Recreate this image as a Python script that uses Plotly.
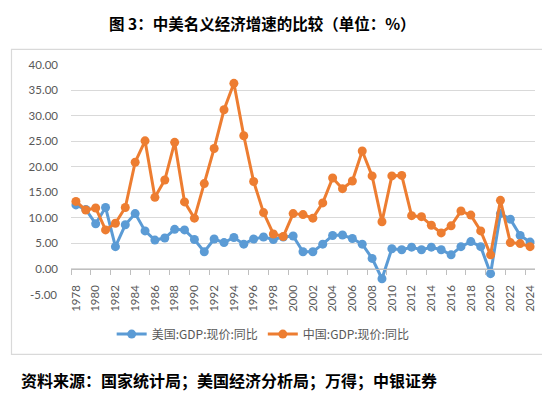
import plotly.graph_objects as go

years = list(range(1978, 2025))
us_gdp = [12.5, 11.6, 8.8, 12.0, 4.3, 8.6, 10.8, 7.4, 5.6, 6.0, 7.7, 7.6, 5.7, 3.3, 5.8, 5.1, 6.1, 4.8, 5.8, 6.2, 5.7, 6.2, 6.4, 3.3, 3.3, 4.8, 6.5, 6.6, 5.9, 4.8, 2.0, -2.0, 3.9, 3.7, 4.2, 3.7, 4.2, 3.7, 2.7, 4.3, 5.3, 4.3, -1.0, 10.8, 9.7, 6.5, 5.2]
cn_gdp = [13.2, 11.5, 11.9, 7.6, 8.9, 12.0, 20.9, 25.1, 14.0, 17.4, 24.8, 13.1, 9.9, 16.7, 23.6, 31.2, 36.4, 26.1, 17.1, 11.0, 6.8, 6.3, 10.8, 10.6, 9.9, 12.9, 17.8, 15.7, 17.2, 23.1, 18.2, 9.2, 18.2, 18.3, 10.4, 10.2, 8.5, 7.0, 8.4, 11.3, 10.5, 7.4, 2.7, 13.4, 5.1, 4.9, 4.3]
year_labels = [str(y) for y in years[::2]]
y_ticks = [0, 5, 10, 15, 20, 25, 30, 35, 40]
y_labels = ["%.2f" % v for v in y_ticks]
names = ["美国:GDP:现价:同比", "中国:GDP:现价:同比"]
title_text = "图 3：中美名义经济增速的比较（单位：%）"
source_text = "资料来源：国家统计局；美国经济分析局；万得；中银证券"

W, H = 550, 397
L, R, T, B = 63.4, 526.6, 56.7, 286.5
pw, ph = R - L, B - T

def px_x(px):
    return (px - L) / pw

def px_y(py):
    return (B - py) / ph

BLUE = "#5B9BD5"
ORANGE = "#ED7D31"
GRAY_TXT = "#595959"
NUM_FONT = "Lato"
CJK_FONT = "Noto Sans CJK SC"

fig = go.Figure()
fig.add_trace(go.Scatter(x=years, y=us_gdp, name=names[0], mode="lines+markers",
                         line=dict(color=BLUE, width=3), marker=dict(color=BLUE, size=9)))
fig.add_trace(go.Scatter(x=years, y=cn_gdp, name=names[1], mode="lines+markers",
                         line=dict(color=ORANGE, width=3), marker=dict(color=ORANGE, size=9)))

fig.update_layout(
    width=W, height=H,
    margin=dict(l=L, r=W - R, t=T, b=H - B),
    paper_bgcolor="white", plot_bgcolor="white",
    showlegend=True,
    legend=dict(orientation="h", x=px_x(104), y=px_y(326.7), xanchor="left", yanchor="middle",
                font=dict(family=CJK_FONT, size=12, color=GRAY_TXT), itemwidth=30,
                bgcolor="rgba(0,0,0,0)"),
    xaxis=dict(range=[1977.5, 2024.5], anchor="free", position=5 / 45,
               tickmode="array", tickvals=years[::2], ticktext=year_labels,
               tickangle=-90, ticks="", ticklabelstandoff=11,
               showline=True, linecolor="#BFBFBF", linewidth=1, showgrid=False, zeroline=False,
               tickfont=dict(family=NUM_FONT, size=11.5, color=GRAY_TXT),
               minor=dict(tickmode="linear", tick0=1977.5, dtick=2, ticks="outside",
                          ticklen=5, tickcolor="#BFBFBF", tickwidth=1, showgrid=False)),
    yaxis=dict(range=[-5, 40], tickmode="array", tickvals=y_ticks, ticktext=y_labels,
               showgrid=True, gridcolor="#D9D9D9", gridwidth=1, zeroline=False,
               showline=False, ticks="", ticklabelstandoff=12,
               tickfont=dict(family=NUM_FONT, size=11.5, color=GRAY_TXT)),
    shapes=[dict(type="rect", xref="paper", yref="paper",
                 x0=px_x(4), x1=px_x(541), y0=px_y(347), y1=px_y(41),
                 line=dict(color="#D9D9D9", width=1.2), fillcolor="rgba(0,0,0,0)", layer="below")],
    annotations=[
        dict(text="-5.00", xref="paper", yref="y", x=0, y=-5, xanchor="right", yanchor="middle",
             xshift=-12, showarrow=False, font=dict(family=NUM_FONT, size=11.5, color=GRAY_TXT)),
        dict(text="<b>" + title_text + "</b>", xref="paper", yref="paper", x=px_x(255), y=px_y(15),
             xanchor="center", yanchor="middle", showarrow=False,
             font=dict(family=CJK_FONT, size=15.5, color="black")),
        dict(text="<b>" + source_text + "</b>", xref="paper", yref="paper", x=px_x(11.7), y=px_y(372.7),
             xanchor="left", yanchor="middle", showarrow=False,
             font=dict(family=CJK_FONT, size=16, color="black")),
    ],
)

fig.write_html("out.html")
